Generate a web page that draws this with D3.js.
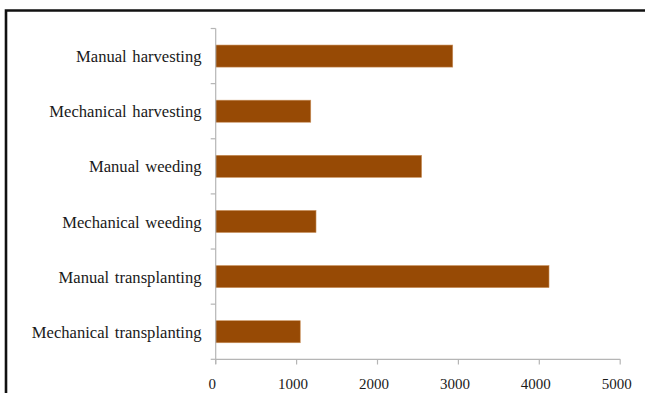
<!DOCTYPE html>
<html>
<head>
<meta charset="utf-8">
<script src="https://cdn.jsdelivr.net/npm/d3@7/dist/d3.min.js"></script>
<style>
  html, body { margin: 0; padding: 0; background: #fff; overflow: hidden; }
  svg { display: block; }
  text { font-family: "Liberation Serif", "Times New Roman", serif; fill: #1a1a1a; }
</style>
</head>
<body>
<svg id="chart" width="645" height="393"></svg>
<script>
// Operations, listed top to bottom
const categories = [
  "Manual harvesting",
  "Mechanical harvesting",
  "Manual weeding",
  "Mechanical weeding",
  "Manual transplanting",
  "Mechanical transplanting"
];
const values = [2930, 1175, 2545, 1240, 4120, 1045];
const xTicks = [0, 1000, 2000, 3000, 4000, 5000];

const svg = d3.select("#chart");

// Outer frame: only its top and left sides fall inside the view
svg.append("path")
  .attr("d", "M6,393 L6,10.5 L645,10.5")
  .attr("fill", "none")
  .attr("stroke", "#111")
  .attr("stroke-width", 2.6);

const x = d3.scaleLinear().domain([0, 5000]).range([215.7, 620.2]);
const y = d3.scaleBand().domain(categories).range([28.5, 359.3]).paddingInner(0.6).paddingOuter(0.3);

const axisColor = "#b5b5b5";

// Bars
svg.append("g").selectAll("rect")
  .data(categories)
  .join("rect")
  .attr("x", x(0))
  .attr("y", d => y(d))
  .attr("width", (d, i) => x(values[i]) - x(0))
  .attr("height", y.bandwidth())
  .attr("fill", "#974A05")
  .attr("stroke", "#c9905c")
  .attr("stroke-width", 0.6);

// Category axis: ticks sit between bands
const yAxis = svg.append("g");
const edges = d3.range(categories.length + 1).map(i => 359.3 - i * (359.3 - 28.5) / categories.length);
yAxis.append("line")
  .attr("x1", x(0)).attr("x2", x(0))
  .attr("y1", 28.5).attr("y2", 364)
  .attr("stroke", axisColor).attr("stroke-width", 1.2);
yAxis.selectAll("line.tick")
  .data(edges)
  .join("line")
  .attr("class", "tick")
  .attr("x1", x(0) - 5).attr("x2", x(0))
  .attr("y1", d => d).attr("y2", d => d)
  .attr("stroke", axisColor).attr("stroke-width", 1.2);
yAxis.selectAll("text")
  .data(categories)
  .join("text")
  .attr("x", 201.5)
  .attr("y", d => y(d) + y.bandwidth() / 2)
  .attr("dy", "0.37em")
  .attr("text-anchor", "end")
  .attr("font-size", 16.6)
  .attr("word-spacing", 1.5)
  .text(d => d);

// Value axis
const xAxis = svg.append("g");
xAxis.append("line")
  .attr("x1", x(0)).attr("x2", x(5000))
  .attr("y1", 359.3).attr("y2", 359.3)
  .attr("stroke", axisColor).attr("stroke-width", 1.2);
xAxis.selectAll("line.tick")
  .data(xTicks)
  .join("line")
  .attr("class", "tick")
  .attr("x1", d => x(d)).attr("x2", d => x(d))
  .attr("y1", 359.3).attr("y2", 364.5)
  .attr("stroke", axisColor).attr("stroke-width", 1.2);
xAxis.selectAll("text")
  .data(xTicks)
  .join("text")
  .attr("x", d => x(d) - 3.5)
  .attr("y", 388.5)
  .attr("text-anchor", "middle")
  .attr("font-size", 15)
  .text(d => d);
</script>
</body>
</html>
